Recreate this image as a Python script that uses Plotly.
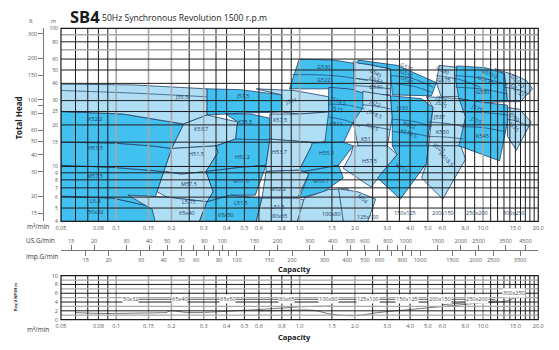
import math
import plotly.graph_objects as go

FIG_W, FIG_H = 559, 350
US_GAL_PER_M3 = 264.172
IMP_GAL_PER_M3 = 219.969
FT_PER_M = 3.28084

# ---------------- axis values ----------------
q_ticks = [0.05, 0.08, 0.1, 0.15, 0.2, 0.3, 0.4, 0.5, 0.6, 0.8, 1.0, 1.5, 2.0,
           3.0, 4.0, 5.0, 6.0, 8.0, 10.0, 15.0, 20.0]
q_tick_text = ["0.05", "0.08", "0.1", "0.15", "0.2", "0.3", "0.4", "0.5", "0.6",
               "0.8", "1.0", "1.5", "2.0", "3.0", "4.0", "5.0", "6.0", "8.0",
               "10.0", "15.0", "20.0"]
q_grid_black = [0.06, 0.07, 0.08, 0.09, 0.25, 0.35, 0.4, 0.5, 0.6, 0.7, 0.8, 0.9,
                1.5, 2.5, 3, 3.5, 4, 5, 6, 7, 8, 9, 11, 12, 13, 14, 15, 16, 17,
                18, 19]
q_grid_gray = [0.1, 0.15, 0.2, 0.3, 1, 2, 10]

h_ticks = [4, 5, 6, 7, 8, 9, 10, 15, 20, 25, 30, 40, 50, 60, 80, 100]
h_grid_black = [5, 6, 7, 8, 9, 10, 15, 20, 25, 30, 40, 50, 60, 80]
h_grid_gray = [70, 90]

ft_ticks = [15, 20, 30, 40, 50, 60, 80, 90, 100, 150, 200, 300]
ft_tick_text = ["15", "20", "30", "40", "50", "60", "80", "", "100", "150", "200", "300"]

us_ticks = [15, 20, 30, 40, 50, 60, 70, 80, 90, 100, 150, 200, 300, 400, 500, 600,
            700, 800, 900, 1000, 1500, 2000, 2500, 3500, 4500]
us_tick_text = ["15", "20", "30", "40", "50", "60", "", "80", "", "100", "150", "200",
                "300", "400", "500", "600", "", "800", "", "1000", "1500", "2000",
                "2500", "3500", "4500"]
imp_ticks = [15, 20, 30, 40, 50, 60, 70, 80, 90, 100, 150, 200, 300, 400, 500, 600,
             700, 800, 900, 1000, 1500, 2000, 2500, 3500]
imp_tick_text = ["15", "20", "30", "40", "50", "60", "", "80", "", "100", "150", "200",
                 "300", "400", "500", "600", "", "800", "", "1000", "1500", "2000",
                 "2500", "3500"]

npsh_ticks = [0, 2, 4, 6, 8, 10]
npsh_grid_black = [2, 4, 6, 8]
npsh_grid_gray = [1, 3, 5, 7, 9]

# ---------------- selection regions (capacity m3/min, head m) ----------------
# 50x32
r50x32_L = ([0.05, 0.05, 0.096, 0.157, 0.171], [4, 6.1, 5.9, 5.1, 4])
r50x32_M = ([0.05, 0.05, 0.096, 0.182, 0.167, 0.157, 0.096], [6.1, 10.2, 9.85, 9.2, 6.55, 5.1, 5.9])
r50x32_H = ([0.05, 0.05, 0.096, 0.157, 0.201, 0.182, 0.096], [10.2, 15, 14.8, 14.1, 13.5, 9.2, 9.85])
r50x32_K = ([0.05, 0.05, 0.109, 0.233, 0.201, 0.157, 0.096], [15, 25, 24, 20.3, 13.5, 14.1, 14.8])
# 65x40
r65x40_J = ([0.05, 0.05, 0.123, 0.313, 0.313, 0.233, 0.109], [25, 39.5, 39, 36.5, 23.6, 20.3, 24])
r65x40_K = ([0.233, 0.313, 0.459, 0.448, 0.35, 0.201], [20.3, 23.6, 21, 15.8, 14.1, 13.5])
r65x40_H = ([0.201, 0.35, 0.358, 0.309, 0.227, 0.182], [13.5, 14.1, 12.6, 9.2, 8.8, 9.2])
r65x40_M = ([0.182, 0.227, 0.309, 0.338, 0.313, 0.189, 0.167], [9.2, 8.8, 9.2, 6.55, 5.55, 6, 6.55])
r65x40_L = ([0.116, 0.189, 0.313, 0.284, 0.163, 0.157], [6.2, 6, 5.55, 4, 4, 4.9])
# 65x50
r65x50_J = ([0.313, 0.476, 0.798, 0.798, 0.506, 0.313], [36.5, 36, 33, 24.8, 24.4, 23.6])
r65x50_K = ([0.396, 0.538, 0.688, 0.688, 0.506, 0.448, 0.459], [24, 24, 22.4, 15.8, 15, 15.8, 21])
r65x50_H = ([0.35, 0.448, 0.688, 0.656, 0.476, 0.309, 0.358], [14.1, 15.8, 15.6, 10.2, 9.85, 9.2, 12.6])
r65x50_M = ([0.309, 0.476, 0.656, 0.573, 0.421, 0.313, 0.338], [9.2, 9.85, 10.2, 6.2, 6.2, 5.55, 6.55])
r65x50_L = ([0.313, 0.421, 0.624, 0.58, 0.284], [5.55, 6.2, 5.9, 4, 4])
# 80x65
r80x65_J = ([0.58, 0.936, 1.44, 1.44, 0.995, 0.798, 0.798], [36.5, 35.5, 32, 24.8, 24, 24.8, 33])
r80x65_K = ([0.688, 0.995, 1.44, 1.73, 1.27, 0.688], [24, 24, 24.8, 16.5, 14.8, 15.8])
r80x65_H = ([0.688, 1.27, 1.15, 0.995, 0.656, 0.656], [15.8, 14.8, 13.7, 9.4, 9.2, 10.2])
r80x65_M = ([0.656, 0.995, 1.125, 0.972, 0.624, 0.648], [9.2, 9.4, 8.9, 5.9, 5.9, 8.9])
r80x65_L = ([0.624, 0.972, 1.06, 0.972, 0.58], [5.9, 5.9, 5.7, 4, 4])
# 100x80
r100x80_G = ([0.995, 1.53, 2.13, 2.35, 1.73, 0.88], [60, 59, 55, 34.5, 36.5, 36.5])
r100x80_J = ([1.44, 1.84, 2.35, 2.21, 1.96, 1.73, 1.37, 1.44, 1.44], [37.5, 36.5, 34.5, 22.8, 21, 14.8, 14.8, 24.8, 32])
r100x80_H = ([1.17, 1.73, 1.96, 1.63, 1.06, 0.995, 1.15], [14.8, 15, 14.1, 10.2, 9.2, 9.4, 13.7])
r100x80_M = ([1.06, 1.63, 1.73, 1.35, 0.995, 1.125], [9.2, 10.2, 8.25, 6.55, 5.9, 8.9])
r100x80_L = ([1.06, 1.44, 1.84, 1.73, 0.972], [5.9, 6.8, 6.9, 4, 4])
# 125x100
r125x100_G = ([1.96, 2.35, 3.13, 3.13, 2.35, 1.99], [57.5, 55, 51, 33, 33.5, 35.5])
r125x100_J = ([2.21, 3.13, 3.2, 3.01, 2.08, 1.96, 2.21], [35, 32.5, 22.8, 14.1, 14.1, 21, 26.7])
r125x100_H = ([1.96, 3.01, 3.4, 2.45, 1.73, 1.9], [14.1, 14.1, 12.2, 7.1, 9.7, 12.2])
r125x100_M = ([1.63, 2.08, 2.6, 2.35, 1.73], [6.9, 6.55, 5.8, 4, 4])
# 150x125
r150x125_G = ([2.08, 3.4, 5.56, 5.23, 3.2, 3.13, 2.35, 2.08], [59, 54, 40.5, 32.5, 33, 51, 55, 56])
r150x125_J = ([3.13, 4.62, 5.34, 4.91, 3.2, 3.2], [32.5, 31, 26.7, 14.1, 14.1, 22.8])
r150x125_H = ([3.2, 5.04, 4.91, 3.54, 2.66, 3.4], [14.1, 14.1, 10.5, 5.8, 8.25, 12.2])
# 200x150
r200x150_G = ([5.77, 8.03, 9.66, 9.66, 5.91, 5.56], [54, 51.5, 43.5, 32.5, 32, 40.5])
r200x150_J = ([4.91, 7.56, 8.33, 7.56, 5.04, 5.34], [32, 31, 24.8, 14.1, 14.1, 26.7])
r200x150_H = ([5.04, 7.56, 8.03, 6.03, 4.62, 4.91], [14.1, 14.1, 11.3, 5.8, 8.25, 10.5])
# 250x200
r250x200_G = ([7.19, 10.27, 13.1, 13.6, 9.66, 7.38, 7.1], [53.5, 52, 47, 29.5, 29, 31, 42])
r250x200_J = ([7.38, 10.27, 13.6, 13.6, 12.3, 7.38, 8.03], [31, 29, 27.8, 21, 11, 14.1, 22.8])
# 300x250
r300x250_G = ([11.6, 14.8, 17.2, 18.6, 16, 13.6, 13.1], [51, 46, 42, 36.5, 29.5, 29.5, 47])
r300x250_J = ([13.6, 15.8, 18.3, 15.2, 13.6], [26.7, 26, 21, 13.1, 16.5])

DARK, LIGHT = "dark", "light"
regions = [
    (r50x32_L, DARK), (r50x32_M, DARK), (r50x32_H, DARK), (r50x32_K, DARK),
    (r65x40_J, LIGHT), (r65x40_K, LIGHT), (r65x40_H, LIGHT), (r65x40_M, LIGHT), (r65x40_L, LIGHT),
    (r65x50_J, DARK), (r65x50_K, DARK), (r65x50_H, DARK), (r65x50_M, DARK), (r65x50_L, DARK),
    (r80x65_J, LIGHT), (r80x65_K, LIGHT), (r80x65_H, LIGHT), (r80x65_M, LIGHT), (r80x65_L, LIGHT),
    (r100x80_G, DARK), (r100x80_J, DARK), (r100x80_H, DARK), (r100x80_M, DARK), (r100x80_L, LIGHT),
    (r125x100_G, LIGHT), (r125x100_J, LIGHT), (r125x100_H, LIGHT), (r125x100_M, LIGHT),
    (r150x125_G, DARK), (r150x125_J, DARK), (r150x125_H, DARK),
    (r200x150_G, LIGHT), (r200x150_J, LIGHT), (r200x150_H, LIGHT),
    (r250x200_G, DARK), (r250x200_J, DARK),
    (r300x250_G, LIGHT), (r300x250_J, LIGHT),
]

# impeller-trim curves inside the grouped blocks
c65x40_J = ([0.05, 0.123, 0.309], [35.5, 34, 32])
c100x80_G = ([0.91, 1.53, 2.35], [46.3, 45.5, 42])
c100x80_J1 = ([1.44, 1.84, 2.26], [28.3, 27.8, 26])
c100x80_J2 = ([1.44, 1.84, 2.13], [22.8, 21.3, 19.4])
c125x100_G1 = ([1.99, 2.5, 3.13], [43.5, 42, 39.5])
c125x100_G2 = ([1.99, 2.5, 3.13], [38.5, 37.8, 36.5])
c125x100_J1 = ([2.21, 2.7, 3.15], [28, 27.2, 26])
c125x100_J2 = ([2.05, 2.6, 3.1], [20, 19.3, 18.5])
c150x125_G1 = ([3.13, 4.09, 5.34], [45.5, 43.5, 37.5])
c150x125_G2 = ([3.13, 4.2, 5.23], [40, 38, 34.5])
c150x125_J1 = ([3.2, 4.35, 5.23], [22, 21, 19.4])
c150x125_J2 = ([3.2, 4.2, 5.04], [17.9, 17.3, 16.5])
c200x150_G = ([5.56, 7.5, 9.66], [45.5, 42.5, 37.5])
c200x150_J1 = ([5.04, 6.5, 8.03], [21, 20.4, 19.4])
c200x150_J2 = ([5.04, 6.4, 7.84], [16.5, 16.3, 15.8])
c250x200_G1 = ([7.1, 10, 13.6], [45.5, 43.5, 39])
c250x200_G2 = ([7.1, 10, 13.6], [37.5, 36.3, 33.5])
c250x200_J1 = ([7.56, 10, 13.6], [24.8, 24.6, 23.6])
c250x200_J2 = ([7.56, 10, 13.1], [19.4, 19.1, 17.9])
c300x250_G = ([13.1, 15.5, 17.8], [37.5, 36, 33.5])
c300x250_J = ([13.6, 15.5, 17.8], [22, 21.2, 19.4])
trim_curves = [c65x40_J, c100x80_G, c100x80_J1, c100x80_J2, c125x100_G1, c125x100_G2,
               c125x100_J1, c125x100_J2, c150x125_G1, c150x125_G2, c150x125_J1,
               c150x125_J2, c200x150_G, c200x150_J1, c200x150_J2, c250x200_G1,
               c250x200_G2, c250x200_J1, c250x200_J2, c300x250_G, c300x250_J]

# model labels
label_text = ["L5.4", "50x32", "M57.5", "H51.5", "K52.2",
              "J55.5", "K53.7", "H51.5", "M57.5", "L5.75", "65x40",
              "J57.5", "K55.5", "H52.2", "M51.5", "L51.5", "65x50",
              "J511", "K57.5", "H53.7", "M52.2", "L51.5", "80x65",
              "G530", "G522", "J518.5", "J515", "K511", "H55.5", "M53.7", "100x80",
              "G545", "G537", "G530", "J522", "J518.5", "K515", "K511", "H57.5", "M54", "125x100",
              "G575", "G555", "G545", "J530", "K522", "K518.5", "H511", "150x125",
              "G590", "G575", "J555", "J545", "J537", "K530", "K522", "H518.5", "200x150",
              "G5110", "G5132", "G590", "J575", "J555", "K545", "250x200",
              "G5160", "G5132", "J590", "J575", "300x250"]
label_q = [0.077, 0.077, 0.077, 0.077, 0.077,
           0.227, 0.291, 0.273, 0.25, 0.25, 0.242,
           0.488, 0.506, 0.488, 0.476, 0.476, 0.396,
           0.90, 0.778, 0.778, 0.76, 0.76, 0.778,
           1.35, 1.35, 1.63, 1.59, 1.59, 1.40, 1.31, 1.50,
           2.6, 2.6, 2.6, 2.56, 2.56, 2.5, 2.35, 2.40, 2.21, 2.35,
           3.84, 3.84, 3.84, 3.62, 3.96, 3.9, 3.62, 3.73,
           6.0, 6.1, 5.91, 5.91, 5.73, 6.03, 5.77, 6.28, 6.03,
           10.9, 10.27, 9.9, 9.29, 9.1, 9.9, 9.29,
           15.5, 15.5, 14.8, 14.8, 14.8]
label_h = [5.65, 4.7, 8.5, 13.5, 22,
           32, 18.6, 12.4, 7.5, 5.55, 4.6,
           32.5, 21, 11.7, 7.9, 5.45, 4.45,
           30, 21.7, 12.8, 6.9, 5.05, 4.35,
           52.5, 42, 30, 26, 20.3, 12.6, 7.9, 4.5,
           47.5, 42, 37.5, 29, 24, 19.4, 15.8, 11, 5.8, 4.3,
           52.5, 47, 42, 26.7, 20, 17.4, 9.7, 4.6,
           50, 42, 31, 28.3, 22.8, 17.9, 13.7, 11.3, 4.6,
           47, 42, 34.5, 26.7, 21.7, 16.5, 4.6,
           41, 35.5, 22.8, 19.4, 4.6]
label_rot = [0, 0, 0, 0, 0,
             0, 0, 0, 0, 0, 0,
             0, 0, 0, 0, 0, 0,
             -12, 0, 0, 0, 0, 0,
             0, 0, 20, 15, 0, 0, 0, 0,
             30, 20, 0, 25, 25, 25, 0, 0, 40, 0,
             25, 25, 25, 0, 20, 20, 30, 0,
             25, 0, 25, 25, 0, 0, 30, 45, 0,
             25, 25, 0, 25, 25, 0, 0,
             45, 45, 45, 45, 0]

# required NPSH curves
npsh_a_q = [0.06, 0.085, 0.14, 0.19]
npsh_a_h = [1.6, 1.4, 1.5, 1.6]
npsh_b_q = [0.19, 0.2, 0.25, 0.44, 0.78, 1.0, 1.5]
npsh_b_h = [1.8, 2.0, 1.6, 2.0, 2.6, 2.9, 3.1]
npsh_c_q = [0.6, 0.8, 1.0, 1.2, 1.5, 2.0, 2.66, 4.0, 6.1, 9.1, 13.6, 16.4]
npsh_c_h = [2.0, 2.1, 2.2, 2.1, 1.2, 0.9, 1.6, 2.3, 3.0, 3.7, 4.3, 6.0]
npsh_d_q = [6.0, 8.0, 10.0, 12.0]
npsh_d_h = [3.4, 3.8, 4.0, 4.3]

pipe_sizes = ["50x32", "65x40", "65x50", "80x65", "100x80", "125x100", "150x125",
              "200x150", "250x200", "300x250"]
pipe_q = [0.12, 0.22, 0.405, 0.85, 1.44, 2.35, 3.84, 5.8, 9.3, 14.8]
pipe_y = [4.6, 4.6, 4.6, 4.6, 4.6, 4.6, 4.6, 4.6, 4.6, 6.0]

# ---------------- styling ----------------
FILL = {DARK: "#42c1f0", LIGHT: "#b0def5"}
OUTLINE = "#22406a"
GRID_BLACK = "#1c1c1c"
GRID_GRAY = "#a8a8a8"
TEXT = "#333333"
LABEL = "#1f3a60"
FONT = "Open Sans"


def px(x):
    return x / FIG_W


def py(y):
    return 1 - y / FIG_H


x_dom = [px(57), px(543)]
y_main_dom = [py(222.5), py(25)]
y_low_dom = [py(323), py(278)]

fig = go.Figure()

for (qs, hs), shade in regions:
    fig.add_trace(go.Scatter(
        x=qs + [qs[0]], y=hs + [hs[0]], mode="lines", fill="toself",
        fillcolor=FILL[shade], line=dict(color=OUTLINE, width=0.8),
        hoverinfo="skip", showlegend=False, xaxis="x", yaxis="y"))

for qs, hs in trim_curves:
    fig.add_trace(go.Scatter(
        x=qs, y=hs, mode="lines", line=dict(color=OUTLINE, width=0.7, shape="spline"),
        hoverinfo="skip", showlegend=False, xaxis="x", yaxis="y"))

# invisible anchors so the secondary scales are rendered
fig.add_trace(go.Scatter(x=[us_ticks[0], us_ticks[-1]], y=[5, 5], xaxis="x2", yaxis="y",
                         mode="markers", marker=dict(opacity=0), hoverinfo="skip", showlegend=False))
fig.add_trace(go.Scatter(x=[imp_ticks[0], imp_ticks[-1]], y=[5, 5], xaxis="x3", yaxis="y",
                         mode="markers", marker=dict(opacity=0), hoverinfo="skip", showlegend=False))
fig.add_trace(go.Scatter(x=[1, 1], y=[ft_ticks[0], ft_ticks[-1]], xaxis="x", yaxis="y2",
                         mode="markers", marker=dict(opacity=0), hoverinfo="skip", showlegend=False))

for qs, hs in [(npsh_a_q, npsh_a_h), (npsh_b_q, npsh_b_h), (npsh_c_q, npsh_c_h), (npsh_d_q, npsh_d_h)]:
    fig.add_trace(go.Scatter(
        x=qs, y=hs, mode="lines", line=dict(color="#555555", width=0.8, shape="spline"),
        hoverinfo="skip", showlegend=False, xaxis="x4", yaxis="y3"))

tick_font = dict(family=FONT, size=5.5, color="#555555")
head_tick_font = dict(family=FONT, size=5, color="#555555")

fig.update_layout(
    width=FIG_W, height=FIG_H, autosize=False,
    margin=dict(l=0, r=0, t=0, b=0),
    paper_bgcolor="white", plot_bgcolor="white",
    font=dict(family=FONT, color=TEXT),
    xaxis=dict(type="log", domain=x_dom, anchor="y",
               range=[math.log10(0.05), math.log10(20)],
               tickvals=q_ticks, ticktext=q_tick_text, tickfont=tick_font,
               ticklabelstandoff=2,
               showgrid=False, zeroline=False, ticks="", showline=False),
    yaxis=dict(type="log", domain=y_main_dom, anchor="x",
               range=[math.log10(4), 2],
               tickvals=h_ticks, ticktext=[str(v) for v in h_ticks], tickfont=head_tick_font,
               ticklabelstandoff=2,
               showgrid=False, zeroline=False, ticks="", showline=False),
    yaxis2=dict(type="log", overlaying="y", anchor="free", position=px(39), side="left",
                range=[math.log10(4 * FT_PER_M), math.log10(100 * FT_PER_M)],
                tickvals=ft_ticks, ticktext=ft_tick_text, tickfont=tick_font,
                showline=True, linecolor="#777777", linewidth=1,
                ticks="outside", ticklen=5, tickcolor="#777777",
                showgrid=False, zeroline=False),
    xaxis2=dict(type="log", overlaying="x", anchor="free", position=py(251.5), side="top",
                range=[math.log10(0.05 * US_GAL_PER_M3), math.log10(20 * US_GAL_PER_M3)],
                tickvals=us_ticks, ticktext=us_tick_text, tickfont=tick_font,
                showline=True, linecolor="#777777", linewidth=1,
                ticks="outside", ticklen=5, tickcolor="#777777",
                showgrid=False, zeroline=False),
    xaxis3=dict(type="log", overlaying="x", anchor="free", position=py(251.5), side="bottom",
                range=[math.log10(0.05 * IMP_GAL_PER_M3), math.log10(20 * IMP_GAL_PER_M3)],
                tickvals=imp_ticks, ticktext=imp_tick_text, tickfont=tick_font,
                showline=True, linecolor="#777777", linewidth=1,
                ticks="outside", ticklen=5, tickcolor="#777777",
                showgrid=False, zeroline=False),
    xaxis4=dict(type="log", domain=x_dom, anchor="y3",
                range=[math.log10(0.05), math.log10(20)],
                tickvals=q_ticks, ticktext=q_tick_text, tickfont=tick_font,
                ticklabelstandoff=2,
                showgrid=False, zeroline=False, ticks="", showline=False),
    yaxis3=dict(domain=y_low_dom, anchor="x4", range=[0, 10],
                tickvals=npsh_ticks, tickfont=tick_font, ticklabelstandoff=2,
                showgrid=False, zeroline=False, ticks="", showline=False),
)

shapes = []


def vline(xref, yref, v, color, width):
    shapes.append(dict(type="line", xref=xref, yref=yref + " domain", x0=v, x1=v, y0=0, y1=1,
                       line=dict(color=color, width=width), layer="above"))


def hline(xref, yref, v, color, width):
    shapes.append(dict(type="line", xref=xref + " domain", yref=yref, x0=0, x1=1, y0=v, y1=v,
                       line=dict(color=color, width=width), layer="above"))


for xr, yr in [("x", "y"), ("x4", "y3")]:
    for v in q_grid_gray:
        vline(xr, yr, v, GRID_GRAY, 1.6)
    for v in q_grid_black:
        vline(xr, yr, v, GRID_BLACK, 1.0)
for v in h_grid_gray:
    hline("x", "y", v, GRID_GRAY, 1.6)
for v in h_grid_black:
    hline("x", "y", v, GRID_BLACK, 1.0)
for v in npsh_grid_gray:
    hline("x4", "y3", v, GRID_GRAY, 1.2)
for v in npsh_grid_black:
    hline("x4", "y3", v, GRID_BLACK, 1.0)
for xr, yr in [("x", "y"), ("x4", "y3")]:
    shapes.append(dict(type="rect", xref=xr + " domain", yref=yr + " domain",
                       x0=0, x1=1, y0=0, y1=1, line=dict(color=GRID_BLACK, width=1.2),
                       layer="above"))
# pipe-size guide line in the NPSH panel
shapes.append(dict(type="line", xref="x4", yref="y3", x0=pipe_q[0] * 0.95, x1=pipe_q[-2] * 1.25,
                   y0=pipe_y[0], y1=pipe_y[0], line=dict(color="#444444", width=0.8), layer="above"))
fig.update_layout(shapes=shapes)

ann = []
for t, q, h, r in zip(label_text, label_q, label_h, label_rot):
    ann.append(dict(xref="x", yref="y", x=math.log10(q), y=math.log10(h), text=t,
                    textangle=r, showarrow=False,
                    font=dict(family=FONT, size=5.5, color=LABEL)))
for t, q, v in zip(pipe_sizes, pipe_q, pipe_y):
    ann.append(dict(xref="x4", yref="y3", x=math.log10(q), y=v, text=t, showarrow=False,
                    bgcolor="white", borderpad=0,
                    font=dict(family=FONT, size=5.5, color="#444444")))


def paper_text(x, y, text, size, bold=False, angle=0, xanchor="center", color=TEXT):
    ann.append(dict(xref="paper", yref="paper", x=px(x), y=py(y), text=f"<b>{text}</b>" if bold else text,
                    showarrow=False, xanchor=xanchor, yanchor="middle", textangle=angle,
                    font=dict(family=FONT, size=size, color=color)))


paper_text(64, 12.5, "SB4", 16.5, bold=True, xanchor="left", color="#1a1a1a")
paper_text(97, 14, "50Hz Synchronous Revolution 1500 r.p.m", 8.6, xanchor="left", color="#222222")
paper_text(26, 17, "ft", 5.5, color="#555555")
paper_text(49, 17, "m", 5.5, color="#555555")
paper_text(13.5, 117, "Total Head", 8, bold=True, angle=-90, color="#222222")
paper_text(34, 228, "m³/min", 6.5)
paper_text(36, 242, "US.G/min", 6.5)
paper_text(38, 258, "Imp.G/min", 6.5)
paper_text(295, 271, "Capacity", 7.5, bold=True, color="#222222")
paper_text(10, 300, "Req'd NPSH m", 4, bold=True, angle=-90)
paper_text(34, 333, "m³/min", 6.5)
paper_text(295, 341, "Capacity", 7.5, bold=True, color="#222222")
fig.update_layout(annotations=ann)

fig.write_html("out.html")
